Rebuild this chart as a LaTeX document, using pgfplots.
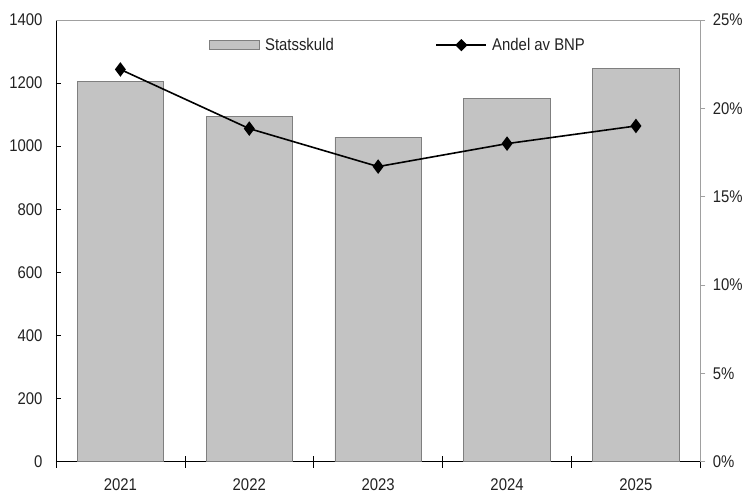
\documentclass[border=0pt]{standalone}
\usepackage{fontspec}
\setmainfont{Liberation Sans}[FakeStretch=0.88]
\usepackage{pgfplots}
\pgfplotsset{compat=1.18}
\definecolor{barfill}{HTML}{C3C3C3}
\definecolor{bardraw}{HTML}{7F7F7F}
\definecolor{axgray}{HTML}{A0A0A0}
\definecolor{txt}{HTML}{222222}
\pgfplotsset{
  barleg/.style={legend image code/.code={\draw[fill=barfill, draw=bardraw, line width=0.8bp] (0bp,-4.5bp) rectangle (50bp,4.5bp);}},
  lineleg/.style={legend image code/.code={\draw[line width=1.6bp] (0bp,0bp) -- (50bp,0bp); \fill (20bp,0bp) -- (25bp,5bp) -- (30bp,0bp) -- (25bp,-5bp) -- cycle;}},
}
\begin{document}
\begin{tikzpicture}[font=\fontsize{17}{20}\selectfont, text=txt]
\begin{axis}[
  name=ax,
  scale only axis, width=645bp, height=442bp,
  xmin=-0.5, xmax=4.5, ymin=0, ymax=1400,
  axis x line*=bottom, axis y line*=left,
  axis line style={-, black, line width=0.8bp},
  ytick={0,200,...,1400},
  xtick={0,1,2,3,4}, xticklabels={2021,2022,2023,2024,2025},
  major x tick style={draw=none},
  minor xtick={-0.5,0.5,1.5,2.5,3.5,4.5},
  minor tick length=12bp,
  minor x tick style={yshift=-6bp, black, line width=0.6bp},
  major tick length=5bp,
  tick align=inside,
  major y tick style={black, line width=0.6bp},
  /pgf/number format/assume math mode=true,
  /pgf/number format/1000 sep={},
  xticklabel style={yshift=-14bp},
  yticklabel style={xshift=-10bp},
]
\addplot[ybar, bar width=0.67, fill=barfill, draw=bardraw, line width=0.8bp]
  coordinates {(0,1204) (1,1094) (2,1029) (3,1152) (4,1245)};
\draw[axgray, line width=0.8bp] (rel axis cs:0,1) -- (rel axis cs:1,1);
\end{axis}
\begin{axis}[
  scale only axis, width=645bp, height=442bp,
  xmin=-0.5, xmax=4.5, ymin=0, ymax=25,
  axis x line=none, axis y line*=right,
  axis line style={-, axgray, line width=0.8bp},
  ytick={0,5,...,25},
  yticklabel={\pgfmathprintnumber{\tick}\%},
  tick align=outside, major tick length=5bp,
  major y tick style={axgray, line width=0.8bp},
  /pgf/number format/assume math mode=true,
  yticklabel style={xshift=4bp},
  legend columns=2,
  legend style={draw=none, fill=none, at={(0.531,0.943)}, anchor=center,
    /tikz/every even column/.append style={column sep=100bp},
    /tikz/every odd column/.append style={column sep=3bp},
    font=\fontsize{17}{20}\selectfont, text=txt},
]
\addlegendimage{barleg}
\addlegendentry{Statsskuld}
\addplot[black, line width=1.6bp, mark=diamond*, mark size=6bp, lineleg]
  coordinates {(0,22.2) (1,18.85) (2,16.7) (3,18.0) (4,19.0)};
\addlegendentry{Andel av BNP}
\end{axis}
\path ([shift={(-56bp,-31bp)}]ax.south west) rectangle ([shift={(45bp,20bp)}]ax.north east);
\end{tikzpicture}
\end{document}
